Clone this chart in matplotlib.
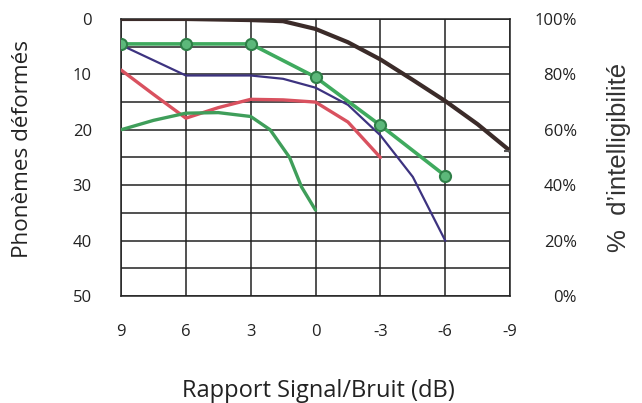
import matplotlib
matplotlib.use("Agg")
import matplotlib.pyplot as plt

plt.rcParams['font.family'] = ['Open Sans', 'DejaVu Sans']

# signal/noise ratio (dB) and distorted phonemes for each hand-drawn curve
snr_ticks = [9, 6, 3, 0, -3, -6, -9]

black_x = [9, 6, 3, 1.5, 0, -1.5, -3, -4.5, -6, -7.5, -9]
black_y = [0, 0, 0.2, 0.4, 1.8, 4.2, 7.3, 11, 14.8, 19, 23.8]

green_x = [9, 6, 3, 0, -3, -6]
green_y = [4.5, 4.5, 4.5, 10.5, 19.2, 28.3]

blue_x = [9, 6, 3, 1.5, 0, -1.5, -3, -4.5, -6]
blue_y = [4.7, 10.2, 10.2, 10.8, 12.4, 15.5, 21, 28.5, 40]

red_x = [9, 7.5, 6, 4.5, 3, 1.5, 0, -1.5, -3]
red_y = [9.2, 13.6, 17.9, 16.0, 14.5, 14.6, 15.0, 18.6, 25]

green2_x = [9, 7.5, 6, 4.5, 3, 2.1, 1.2, 0.65, 0]
green2_y = [20, 18.3, 17, 16.9, 17.6, 20, 25, 30.3, 34.5]

left_ticks = list(range(0, 51, 5))
left_labels = [str(v) if v % 10 == 0 else '' for v in left_ticks]
right_ticks = list(range(0, 101, 20))
right_labels = [f'{v}%' for v in right_ticks]

fig = plt.figure(figsize=(6.42, 4.03), dpi=100)
ax = fig.add_axes([0.1885, 0.2655, 0.606, 0.6874])

ax.plot(black_x, black_y, color='#3b2b29', lw=3.0, solid_capstyle='round', zorder=5)
ax.plot([black_x[-1]], [black_y[-1]], marker='_', ms=8, mew=1.5, color='#555555', zorder=6)
ax.plot(blue_x, blue_y, color='#3d3380', lw=1.6, zorder=4)
ax.plot(red_x, red_y, color='#d9515f', lw=2.4, solid_capstyle='round', zorder=4)
ax.plot(green2_x, green2_y, color='#3f9e5a', lw=2.4, solid_capstyle='round', zorder=4)
ax.plot(green_x, green_y, color='#3faa5e', lw=2.6, marker='o', ms=8,
        mfc='#5cb87a', mec='#2f7f48', mew=1.5, zorder=5)

ax.set_xlim(9, -9)
ax.set_ylim(50, 0)
ax.set_xticks(snr_ticks)
ax.set_xticklabels([str(v) for v in snr_ticks])
ax.set_yticks(left_ticks)
ax.set_yticklabels(left_labels)
ax.grid(True, color='#222222', lw=1.1)
ax.set_axisbelow(True)
for s in ax.spines.values():
    s.set_color('#222222')
    s.set_linewidth(1.1)
ax.tick_params(length=0, labelsize=12, colors='#222222')
ax.tick_params(axis='y', pad=21)
ax.tick_params(axis='x', pad=20)

ax2 = ax.twinx()
ax2.set_ylim(0, 100)
ax2.set_yticks(right_ticks)
ax2.set_yticklabels(right_labels, ha='right')
ax2.tick_params(length=0, labelsize=12, colors='#222222', pad=48)
for s in ax2.spines.values():
    s.set_visible(False)

ax.set_xlabel('Rapport Signal/Bruit (dB)', fontsize=17, color='#222222')
ax.xaxis.set_label_coords(0.506, -0.30)
ax.set_ylabel('Phonèmes déformés', fontsize=16.2, color='#222222')
ax.yaxis.set_label_coords(-0.225, 0.53)
ax2.set_ylabel('%  d\u2019intelligibilité', fontsize=18.5, color='#333333',
               rotation=90, family=['Liberation Sans', 'DejaVu Sans'])
ax2.yaxis.set_label_coords(1.248, 0.50)

fig.savefig('out.png', dpi=100)
